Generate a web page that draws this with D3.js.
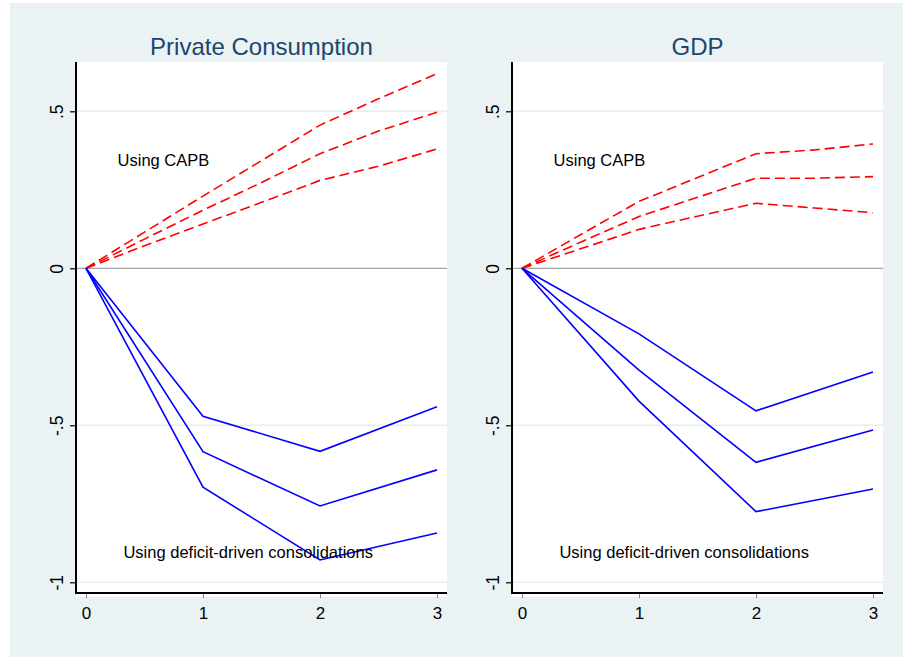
<!DOCTYPE html>
<html>
<head>
<meta charset="utf-8">
<script src="https://cdn.jsdelivr.net/npm/d3@7"></script>
<style>
  html, body { margin: 0; padding: 0; background: #ffffff; }
  svg { display: block; }
  text { font-family: Arial, "Liberation Sans", sans-serif; }
</style>
</head>
<body>
<svg id="chart" width="903" height="657"></svg>
<script>
// ---------------- DATA ----------------
const panelTitles = ["Private Consumption", "GDP"];
const xTicks = [0, 1, 2, 3];
const yTicks = [0.5, 0, -0.5, -1];
const yTickLabels = [".5", "0", "-.5", "-1"];
const labelCAPB = "Using CAPB";
const labelDeficit = "Using deficit-driven consolidations";

// Blue (deficit-driven) – horizons 0..3
const blueX = [0, 1, 2, 3];
const pcBlueUpper = [0, -0.471, -0.583, -0.441];
const pcBlueMid   = [0, -0.584, -0.757, -0.642];
const pcBlueLower = [0, -0.697, -0.929, -0.843];
const gdpBlueUpper = [0, -0.209, -0.454, -0.330];
const gdpBlueMid   = [0, -0.324, -0.618, -0.515];
const gdpBlueLower = [0, -0.423, -0.775, -0.703];

// Red dashed (CAPB)
const redX = [0, 0.5, 1, 1.5, 2, 2.5, 3];
const pcRedUpper = [0, 0.115, 0.230, 0.343, 0.456, 0.540, 0.620];
const pcRedMid   = [0, 0.093, 0.185, 0.273, 0.365, 0.437, 0.497];
const pcRedLower = [0, 0.072, 0.141, 0.210, 0.280, 0.325, 0.380];
const gdpRedUpper = [0, 0.107, 0.213, 0.289, 0.365, 0.377, 0.396];
const gdpRedMid   = [0, 0.083, 0.165, 0.226, 0.287, 0.287, 0.292];
const gdpRedLower = [0, 0.062, 0.124, 0.166, 0.207, 0.192, 0.177];

const panelBlue = [[pcBlueUpper, pcBlueMid, pcBlueLower], [gdpBlueUpper, gdpBlueMid, gdpBlueLower]];
const panelRed  = [[pcRedUpper, pcRedMid, pcRedLower], [gdpRedUpper, gdpRedMid, gdpRedLower]];

// ---------------- LAYOUT ----------------
const svg = d3.select("#chart");
svg.append("rect").attr("x", 10).attr("y", 3).attr("width", 893).attr("height", 654).attr("fill", "#eaf2f3");

const plots = [
  { left: 76, right: 447 },
  { left: 512, right: 883 }
];
const plotTop = 62, plotBottom = 593;

const y = d3.scaleLinear().domain([-1, 0.5]).range([582.3, 111.3]);

plots.forEach((p, i) => {
  const g = svg.append("g");
  const x = d3.scaleLinear().domain([0, 3]).range([p.left + 10, p.right - 10]);

  // plot region
  g.append("rect").attr("x", p.left).attr("y", plotTop)
    .attr("width", p.right - p.left).attr("height", plotBottom - plotTop + 4)
    .attr("fill", "#ffffff");

  // grid lines
  g.selectAll(".grid").data(yTicks.filter(v => v !== 0)).enter().append("line")
    .attr("x1", p.left).attr("x2", p.right)
    .attr("y1", d => y(d)).attr("y2", d => y(d))
    .attr("stroke", "#e5eef1").attr("stroke-width", 1.6);

  // zero line
  g.append("line").attr("x1", p.left).attr("x2", p.right)
    .attr("y1", y(0)).attr("y2", y(0))
    .attr("stroke", "#a3a3a3").attr("stroke-width", 1.2);

  // title
  g.append("text").attr("x", (p.left + p.right) / 2).attr("y", 55)
    .attr("text-anchor", "middle").attr("font-size", 24).attr("fill", "#1a476f")
    .text(panelTitles[i]);

  const line = d3.line().x(d => x(d[0])).y(d => y(d[1]));

  // red dashed lines
  panelRed[i].forEach(series => {
    g.append("path").datum(series.map((v, k) => [redX[k], v]))
      .attr("d", line).attr("fill", "none").attr("stroke", "#ff0000")
      .attr("stroke-width", 1.6).attr("stroke-dasharray", "10,5");
  });
  // blue lines
  panelBlue[i].forEach(series => {
    g.append("path").datum(series.map((v, k) => [blueX[k], v]))
      .attr("d", line).attr("fill", "none").attr("stroke", "#0000ff")
      .attr("stroke-width", 1.6);
  });

  // annotations
  g.append("text").attr("x", x(0.27)).attr("y", y(0.326))
    .attr("font-size", 16.5).attr("fill", "#000").text(labelCAPB);
  g.append("text").attr("x", x(0.32)).attr("y", y(-0.923))
    .attr("font-size", 16.5).attr("fill", "#000").text(labelDeficit);

  // y axis
  const yAxis = d3.axisLeft(y).tickValues(yTicks).tickSize(6).tickSizeOuter(0)
    .tickFormat((d, k) => yTickLabels[k]);
  const ya = g.append("g").attr("transform", `translate(${p.left},0)`).call(yAxis);
  ya.select(".domain").remove();
  ya.selectAll(".tick line").attr("stroke", "#000").attr("stroke-width", 1.2);
  ya.selectAll(".tick text")
    .attr("transform", "rotate(-90)")
    .attr("x", 0).attr("y", -13.5).attr("dy", null)
    .attr("text-anchor", "middle")
    .attr("font-size", 17.5).attr("fill", "#000")
    .style("font-family", "Arial, 'Liberation Sans', sans-serif");
  g.append("line").attr("x1", p.left).attr("x2", p.left)
    .attr("y1", plotTop).attr("y2", plotBottom + 1)
    .attr("stroke", "#000").attr("stroke-width", 2);

  // x axis
  const xAxis = d3.axisBottom(x).tickValues(xTicks).tickSize(5).tickSizeOuter(0)
    .tickFormat(d3.format("d"));
  const xa = g.append("g").attr("transform", `translate(0,${plotBottom})`).call(xAxis);
  xa.select(".domain").remove();
  xa.selectAll(".tick line").attr("stroke", "#888").attr("stroke-width", 1);
  xa.selectAll(".tick text")
    .attr("y", 26.3).attr("dy", null)
    .attr("font-size", 17).attr("fill", "#000")
    .style("font-family", "Arial, 'Liberation Sans', sans-serif");
  g.append("line").attr("x1", p.left - 1).attr("x2", p.right)
    .attr("y1", plotBottom).attr("y2", plotBottom)
    .attr("stroke", "#000").attr("stroke-width", 2);
});
</script>
</body>
</html>
